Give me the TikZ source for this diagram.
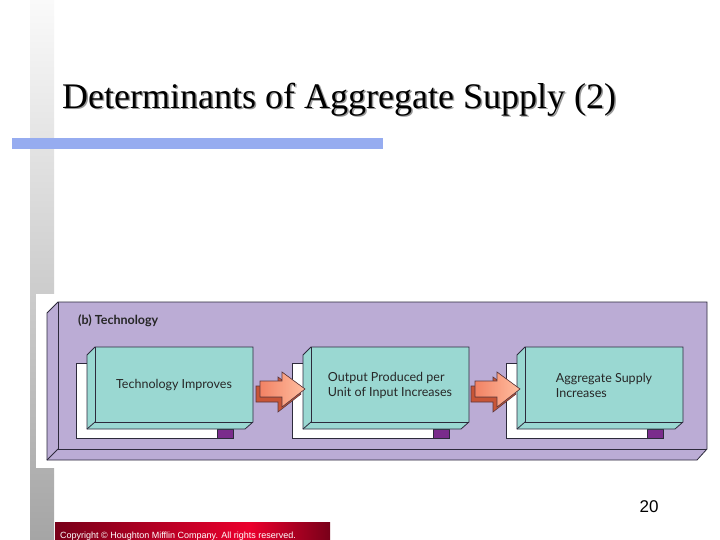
\documentclass[tikz,border=0pt]{standalone}
\usepackage{fontspec}
\setmainfont{Liberation Serif}
\newfontfamily\arialf{Liberation Sans}
\newfontfamily\geof{Lato}
\definecolor{panel}{RGB}{187,172,213}
\definecolor{teal}{RGB}{154,216,210}
\definecolor{sq}{RGB}{122,44,140}
\definecolor{edge}{RGB}{45,42,60}
\definecolor{barblue}{RGB}{150,172,240}
\definecolor{arr}{RGB}{242,130,100}
\definecolor{arrlight}{RGB}{255,190,160}
\definecolor{arrdark}{RGB}{200,85,55}
\definecolor{darkred}{RGB}{120,0,25}
\definecolor{brightred}{RGB}{235,0,45}
\tikzset{
  outl/.style={draw=edge, line width=0.8pt, line join=miter},
  boxtext/.style={font=\geof\fontsize{12.5}{15}\selectfont, text=black!85, align=left, inner sep=0pt},
}
\begin{document}
\begin{tikzpicture}[x=1pt,y=-1pt]
\useasboundingbox (0,0) rectangle (720,540);
\fill[white] (0,0) rectangle (720,540);
% left gray strip
\shade[top color={rgb,255:red,250;green,250;blue,250}, bottom color={rgb,255:red,165;green,165;blue,165}] (30,0) rectangle (54,540);
% title
\node[anchor=base west, inner sep=0pt, text=black!40, font=\fontsize{36}{40}\selectfont] at (63.5,110) {Determinants of Aggregate Supply (2)};
\node (title) [anchor=base west, inner sep=0pt, font=\fontsize{36}{40}\selectfont] at (62,108.5) {Determinants of Aggregate Supply (2)};
% blue bar
\fill[barblue] (12,138) rectangle (383,149);
% image background
\fill[white] (36,294) rectangle (712,468);
% panel slab
\fill[panel] (58,302) -- (707,302) -- (707,449) -- (697,460) -- (47,460) -- (47,313) -- cycle;
\draw[outl] (58,302) -- (707,302) -- (707,449) -- (697,460) -- (47,460) -- (47,313) -- cycle;
\draw[outl] (58,302) -- (58,449) -- (707,449);
\draw[outl] (58,449) -- (47,460);
\node (lbl) [anchor=west, inner sep=0pt, font=\geof\bfseries\fontsize{12.5}{14}\selectfont, text=black!85] at (78,320.5) {(b) Technology};
% boxes
\foreach \i/\fx in {1/95, 2/311, 3/525} {
  \filldraw[fill=white, outl] (\fx-19,363) rectangle (\fx+138,438);
  \filldraw[fill=sq, outl] (\fx+122,429) rectangle (\fx+138,438);
  \filldraw[fill=teal, outl] (\fx,347) -- (\fx+158,347) -- (\fx+158,422) -- (\fx+150,429) -- (\fx-8,429) -- (\fx-8,355) -- cycle;
  \draw[outl] (\fx,347) -- (\fx,422) -- (\fx+158,422);
  \draw[outl] (\fx,422) -- (\fx-8,429);
  \coordinate (c\i) at (\fx+79,385);
}
\node (b1) [boxtext] at (c1) {Technology Improves};
\node (b2) [boxtext] at (c2) {Output Produced per\\Unit of Input Increases};
\node (b3) [boxtext] at (c3) {Aggregate Supply\\Increases};
% 3D block arrows
\foreach \ax in {257, 472} {
  \begin{scope}[shift={(\ax,0)}]
    \filldraw[fill=arrdark, draw=edge!70!arrdark, line width=0.6pt, line join=miter]
      (-1,386) -- (21,386) -- (21,377) -- (44,394) -- (21,412) -- (21,402) -- (-1,402) -- cycle;
    \filldraw[left color=arr, right color=arrlight, draw=edge!70!arrdark, line width=0.6pt, line join=miter]
      (3,381) -- (25,381) -- (25,372) -- (48,389) -- (25,407) -- (25,397) -- (3,397) -- cycle;
  \end{scope}
}
% page number
\node (pg) [anchor=base, inner sep=0pt, font=\arialf\fontsize{17}{20}\selectfont] at (649,512) {20};
% copyright bar
\shade[left color=darkred, right color=brightred] (55,522) rectangle (250,540);
\shade[left color=brightred, right color=darkred] (250,522) rectangle (330,540);
\node (copy) [anchor=base west, inner sep=0pt, text=white, font=\arialf\fontsize{9}{10}\selectfont] at (60,538) {Copyright \textcopyright{} Houghton Mifflin Company. All rights reserved.};
\end{tikzpicture}
\end{document}
